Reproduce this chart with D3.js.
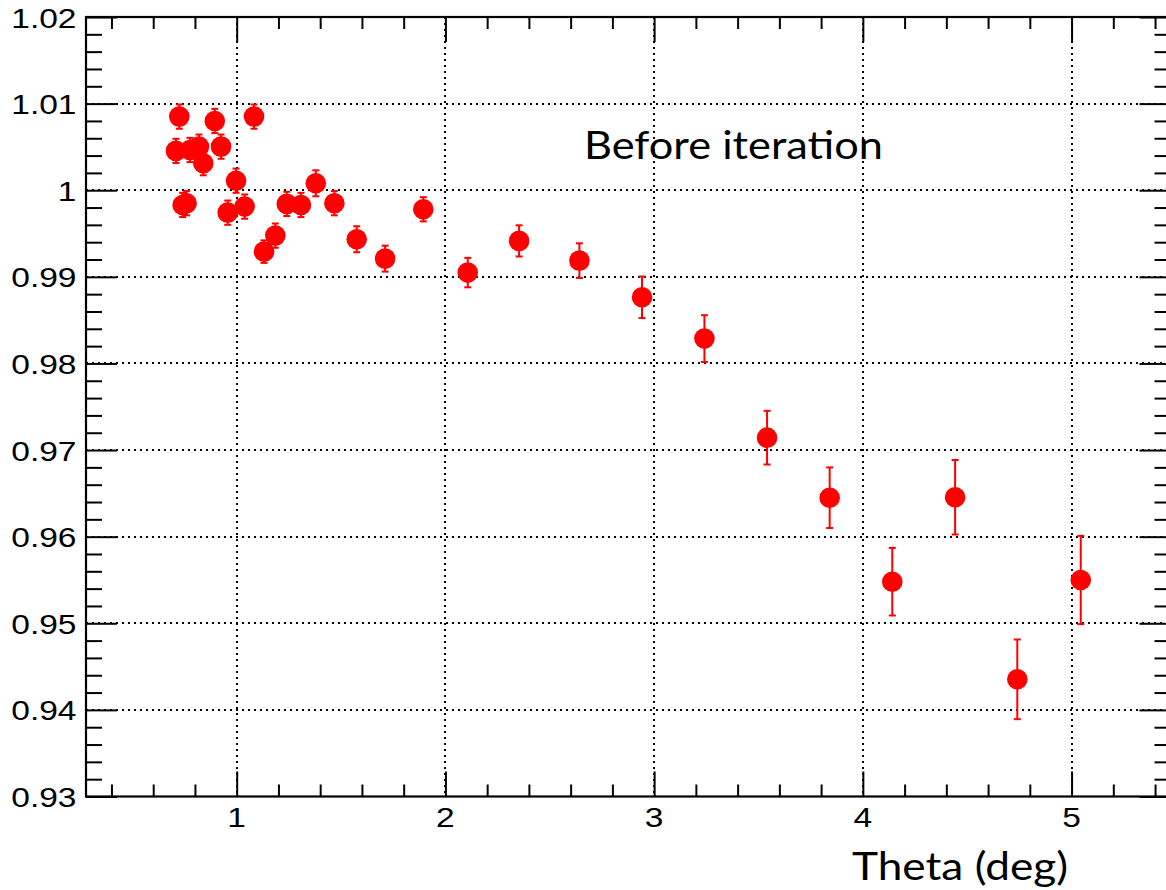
<!DOCTYPE html>
<html>
<head>
<meta charset="utf-8">
<script src="https://cdn.jsdelivr.net/npm/d3@7"></script>
<style>
  html, body { margin: 0; padding: 0; background: #fff; }
  svg { display: block; }
</style>
</head>
<body>
<svg id="chart" width="1166" height="890"></svg>
<script>
// ---- data ----
const thetaDeg = [0.709, 0.725, 0.741, 0.760, 0.776, 0.819, 0.840, 0.895, 0.925, 0.957,
                  0.997, 1.038, 1.083, 1.131, 1.185, 1.240, 1.308, 1.379, 1.468, 1.575,
                  1.711, 1.894, 2.107, 2.353, 2.642, 2.942, 3.241, 3.541, 3.841, 4.141,
                  4.442, 4.740, 5.044];
const ratio    = [1.00454, 1.0085, 0.9983, 0.9985, 1.00465, 1.00503, 1.00312, 1.0080, 1.00503, 0.99741,
                  1.0011, 0.99811, 1.0085, 0.99291, 0.99476, 0.99842, 0.9983, 1.0008, 0.9985, 0.99434,
                  0.9921, 0.9978, 0.99049, 0.99415, 0.99187, 0.98764, 0.98287, 0.97143, 0.96450, 0.95480,
                  0.96455, 0.94353, 0.95500];
const ratioErr = [0.0014, 0.0014, 0.0014, 0.0014, 0.0014, 0.0014, 0.0014, 0.0014, 0.0014, 0.0014,
                  0.0014, 0.0014, 0.0014, 0.0013, 0.0014, 0.0014, 0.0014, 0.0015, 0.0014, 0.0015,
                  0.0015, 0.0014, 0.0017, 0.0018, 0.0020, 0.0024, 0.0027, 0.0031, 0.0035, 0.0039,
                  0.0043, 0.0046, 0.0051];
const xMajorTicks = [1, 2, 3, 4, 5];
const xMinorTicks = [0.4, 0.6, 0.8, 1.2, 1.4, 1.6, 1.8, 2.2, 2.4, 2.6, 2.8, 3.2, 3.4, 3.6, 3.8,
                     4.2, 4.4, 4.6, 4.8, 5.2, 5.4];
const yMajorTicks = [0.93, 0.94, 0.95, 0.96, 0.97, 0.98, 0.99, 1.00, 1.01, 1.02];
const yMinorTicks = d3.range(0, 46).map(i => +(0.93 + i * 0.002).toFixed(3))
                      .filter(v => !yMajorTicks.some(m => Math.abs(m - v) < 1e-9));
const xTitle = "Theta (deg)";
const annotation = "Before iteration";

// ---- layout ----
const L = 86, R = 1170.5, T = 17, B = 796.5;
const svg = d3.select("#chart");
const x = d3.scaleLinear().domain([0.278, 5.474]).range([L, R]);
const y = d3.scaleLinear().domain([0.93, 1.02]).range([B, T]);
const px = v => Math.round(v);

// grid
const grid = svg.append("g").attr("stroke", "#000").attr("stroke-width", 2)
  .attr("stroke-dasharray", "2,4");
grid.selectAll(".gx").data(xMajorTicks).join("line")
  .attr("x1", d => px(x(d))).attr("x2", d => px(x(d))).attr("y1", T).attr("y2", B);
grid.selectAll(".gy").data(yMajorTicks.filter(v => v > 0.93 && v < 1.02)).join("line")
  .attr("y1", d => px(y(d))).attr("y2", d => px(y(d))).attr("x1", L).attr("x2", R);

// axes (ticks only, labels drawn separately)
function styleAxis(g) {
  g.select(".domain").remove();
  g.selectAll("line").attr("stroke", "#000").attr("stroke-width", 2);
}
svg.append("g").attr("transform", `translate(0,${B})`)
  .call(d3.axisBottom(x).tickValues(xMajorTicks).tickSize(-25).tickFormat("")).call(styleAxis);
svg.append("g").attr("transform", `translate(0,${B})`)
  .call(d3.axisBottom(x).tickValues(xMinorTicks).tickSize(-12).tickFormat("")).call(styleAxis);
svg.append("g").attr("transform", `translate(0,${T})`)
  .call(d3.axisTop(x).tickValues(xMajorTicks).tickSize(-25).tickFormat("")).call(styleAxis);
svg.append("g").attr("transform", `translate(0,${T})`)
  .call(d3.axisTop(x).tickValues(xMinorTicks).tickSize(-12).tickFormat("")).call(styleAxis);
svg.append("g").attr("transform", `translate(${L},0)`)
  .call(d3.axisLeft(y).tickValues(yMajorTicks).tickSize(-31).tickFormat("")).call(styleAxis);
svg.append("g").attr("transform", `translate(${L},0)`)
  .call(d3.axisLeft(y).tickValues(yMinorTicks).tickSize(-16).tickFormat("")).call(styleAxis);
svg.append("g").attr("transform", `translate(${R},0)`)
  .call(d3.axisRight(y).tickValues(yMajorTicks).tickSize(-31).tickFormat("")).call(styleAxis);
svg.append("g").attr("transform", `translate(${R},0)`)
  .call(d3.axisRight(y).tickValues(yMinorTicks).tickSize(-16).tickFormat("")).call(styleAxis);

// frame
svg.append("rect").attr("x", L).attr("y", T).attr("width", R - L).attr("height", B - T)
  .attr("fill", "none").attr("stroke", "#000").attr("stroke-width", 2.2);

// tick labels
const fmt = v => String(+v.toFixed(2));
const labFont = "'Liberation Sans', Arial, Helvetica, sans-serif";
svg.append("g").selectAll("g").data(yMajorTicks).join("g")
  .attr("transform", d => `translate(76.5,${y(d) + 10.5}) scale(1.22,1)`)
  .append("text").attr("text-anchor", "end").attr("font-family", labFont)
  .attr("font-size", 27.5).attr("fill", "#000").text(fmt);
svg.append("g").selectAll("g").data(xMajorTicks).join("g")
  .attr("transform", d => `translate(${x(d)},827) scale(1.22,1)`)
  .append("text").attr("text-anchor", "middle").attr("font-family", labFont)
  .attr("font-size", 27.5).attr("fill", "#000").text(fmt);

// data: error bars + markers
const pts = thetaDeg.map((t, i) => ({ t, v: ratio[i], e: ratioErr[i] }));
const eb = svg.append("g").attr("stroke", "#ff0000").attr("stroke-width", 2);
eb.selectAll(".bar").data(pts).join("line")
  .attr("x1", d => x(d.t)).attr("x2", d => x(d.t))
  .attr("y1", d => y(d.v + d.e)).attr("y2", d => y(d.v - d.e));
eb.selectAll(".capT").data(pts).join("line")
  .attr("x1", d => x(d.t) - 3.5).attr("x2", d => x(d.t) + 3.5)
  .attr("y1", d => y(d.v + d.e)).attr("y2", d => y(d.v + d.e));
eb.selectAll(".capB").data(pts).join("line")
  .attr("x1", d => x(d.t) - 3.5).attr("x2", d => x(d.t) + 3.5)
  .attr("y1", d => y(d.v - d.e)).attr("y2", d => y(d.v - d.e));
svg.append("g").selectAll("circle").data(pts).join("circle")
  .attr("cx", d => x(d.t)).attr("cy", d => y(d.v)).attr("r", 10.3)
  .attr("fill", "#ff0000");

// texts
const titleFont = "Lato, 'Open Sans', sans-serif";
svg.append("text").attr("x", 852).attr("y", 880).attr("font-family", titleFont)
  .attr("font-size", 39).attr("fill", "#000")
  .attr("textLength", 216).attr("lengthAdjust", "spacingAndGlyphs").text(xTitle);
svg.append("text").attr("x", 584).attr("y", 158.5).attr("font-family", titleFont)
  .attr("font-size", 38).attr("fill", "#000")
  .attr("textLength", 299).attr("lengthAdjust", "spacingAndGlyphs").text(annotation);
</script>
</body>
</html>
